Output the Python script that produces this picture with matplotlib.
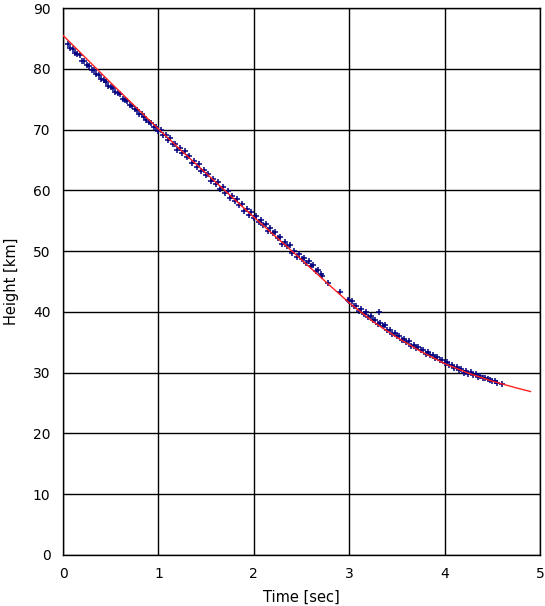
import matplotlib
matplotlib.use("Agg")
import matplotlib.pyplot as plt

# Fitted curve (red)
fit_t = [0.00, 0.25, 0.50, 0.75, 1.00, 1.25, 1.50, 1.75, 2.00, 2.25, 2.50, 2.75,
         3.00, 3.25, 3.50, 3.75, 4.00, 4.25, 4.50, 4.75, 4.90]
fit_h = [85.5, 81.6, 77.7, 73.9, 70.1, 66.4, 62.8, 59.2, 55.6, 52.1, 48.6, 45.0,
         41.5, 38.4, 35.8, 33.5, 31.5, 29.9, 28.6, 27.5, 26.9]

# Observed points (blue)
obs_t = [0.050, 0.075, 0.100, 0.125, 0.150, 0.175, 0.200, 0.225, 0.250, 0.275,
         0.300, 0.325, 0.350, 0.375, 0.400, 0.425, 0.450, 0.475, 0.500, 0.525,
         0.550, 0.575, 0.600, 0.625, 0.650, 0.675, 0.700, 0.725, 0.750, 0.775,
         0.800, 0.825, 0.850, 0.875, 0.900, 0.925, 0.950, 0.975, 1.000, 1.025,
         1.050, 1.075, 1.100, 1.125, 1.150, 1.175, 1.200, 1.225, 1.250, 1.275,
         1.300, 1.325, 1.350, 1.375, 1.400, 1.425, 1.450, 1.475, 1.500, 1.525,
         1.550, 1.575, 1.600, 1.625, 1.650, 1.675, 1.700, 1.725, 1.750, 1.775,
         1.800, 1.825, 1.850, 1.875, 1.900, 1.925, 1.950, 1.975, 2.000, 2.025,
         2.050, 2.075, 2.100, 2.125, 2.150, 2.175, 2.200, 2.225, 2.250, 2.275,
         2.300, 2.325, 2.350, 2.375, 2.400, 2.425, 2.450, 2.475, 2.500, 2.525,
         2.550, 2.575, 2.600, 2.625, 2.650, 2.675, 2.700, 2.715, 2.780, 2.900,
         2.990, 3.000, 3.025, 3.050, 3.075, 3.100, 3.125, 3.150, 3.175, 3.200,
         3.225, 3.250, 3.275, 3.300, 3.310, 3.325, 3.350, 3.375, 3.400, 3.425,
         3.450, 3.475, 3.500, 3.525, 3.550, 3.575, 3.600, 3.625, 3.650, 3.675,
         3.700, 3.725, 3.750, 3.775, 3.800, 3.825, 3.850, 3.875, 3.900, 3.925,
         3.950, 3.975, 4.000, 4.025, 4.050, 4.075, 4.100, 4.125, 4.150, 4.175,
         4.200, 4.225, 4.250, 4.275, 4.300, 4.325, 4.350, 4.375, 4.400, 4.425,
         4.450, 4.475, 4.500, 4.525, 4.550, 4.600]
obs_h = [84.0, 83.4, 83.3, 82.6, 82.4, 82.2, 81.3, 81.3, 80.7, 80.4,
         79.8, 79.8, 79.1, 79.0, 78.3, 78.1, 77.9, 77.2, 77.0, 76.8,
         76.1, 76.0, 75.8, 75.1, 74.9, 74.7, 74.1, 73.9, 73.4, 73.2,
         72.5, 72.6, 72.0, 71.5, 71.3, 71.0, 70.5, 70.4, 69.8, 69.9,
         69.1, 69.1, 68.2, 68.6, 67.7, 67.7, 66.7, 66.9, 66.1, 66.4,
         65.5, 65.6, 64.5, 64.8, 63.9, 64.3, 63.1, 63.3, 62.5, 62.7,
         61.6, 61.9, 61.1, 61.4, 60.2, 60.5, 59.6, 59.9, 58.8, 59.0,
         58.2, 58.5, 57.6, 57.7, 56.6, 56.9, 56.0, 56.4, 55.4, 55.8,
         54.8, 55.2, 54.3, 54.4, 53.3, 53.8, 53.0, 53.2, 52.2, 52.3,
         51.2, 51.5, 50.8, 51.0, 49.7, 50.0, 49.1, 49.5, 48.7, 48.9,
         48.1, 48.3, 47.5, 47.7, 46.8, 46.9, 46.2, 45.9, 44.8, 43.3,
         41.9, 41.8, 41.8, 40.9, 41.0, 40.2, 40.5, 39.7, 39.9, 39.2,
         39.4, 38.7, 38.6, 38.0, 39.9, 38.2, 37.6, 37.8, 37.0, 37.1,
         36.4, 36.5, 36.0, 36.1, 35.4, 35.5, 35.1, 35.2, 34.4, 34.6,
         34.1, 34.2, 33.7, 33.7, 33.1, 33.4, 32.9, 32.9, 32.4, 32.6,
         32.1, 32.1, 31.6, 31.7, 31.2, 31.3, 30.8, 31.0, 30.5, 30.6,
         30.0, 30.3, 29.8, 30.1, 29.6, 29.7, 29.3, 29.5, 29.1, 29.2,
         28.9, 28.8, 28.6, 28.6, 28.3, 28.2]

x_ticks = [0, 1, 2, 3, 4, 5]
y_ticks = [0, 10, 20, 30, 40, 50, 60, 70, 80, 90]

plt.rcParams['font.family'] = ['DejaVu Sans']

fig = plt.figure(figsize=(5.45, 6.06), dpi=100)
ax = fig.add_axes([63/545, 1 - 555/606, (540 - 63)/545, (555 - 8)/606])

ax.plot(obs_t, obs_h, linestyle='none', marker='+', markersize=4.2,
        markeredgewidth=1.1, color='#000080', zorder=3)
ax.plot(fit_t, fit_h, color='#ff2020', linewidth=1.0, zorder=4)

ax.set_xlim(0, 5)
ax.set_ylim(0, 90)
ax.set_xticks(x_ticks)
ax.set_yticks(y_ticks)
ax.grid(True, color='black', linewidth=1.0)
ax.set_axisbelow(True)
ax.tick_params(length=0, labelsize=10, pad=9)
for s in ax.spines.values():
    s.set_color('black')
    s.set_linewidth(1.0)

ax.set_xlabel('Time [sec]', fontsize=10.5, labelpad=6)
ax.set_ylabel('Height [km]', fontsize=10.5, labelpad=10)

fig.savefig('out.png', dpi=100)
